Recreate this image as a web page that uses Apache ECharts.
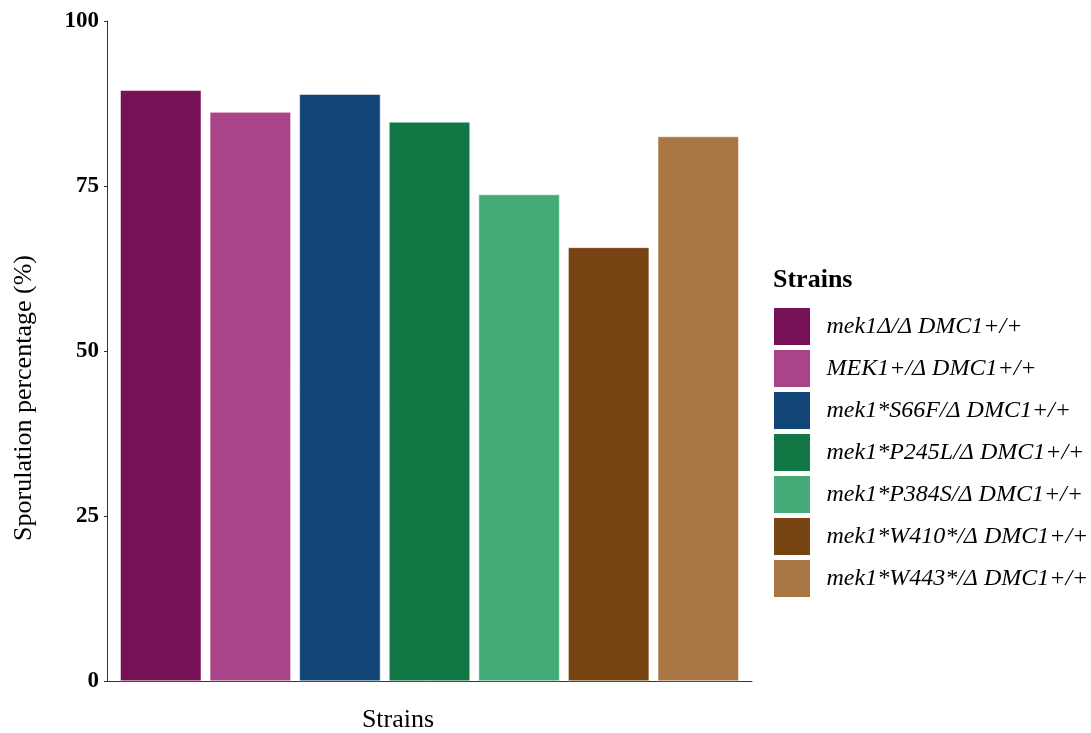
<!DOCTYPE html>
<html>
<head>
<meta charset="utf-8">
<script src="https://cdn.jsdelivr.net/npm/echarts@6/dist/echarts.min.js"></script>
<style>html,body{margin:0;padding:0;background:#fff;}#c{width:1091px;height:733px;}</style>
</head>
<body>
<div id="c"></div>
<script>
const strains = ["mek1\u0394/\u0394 DMC1+/+", "MEK1+/\u0394 DMC1+/+", "mek1*S66F/\u0394 DMC1+/+", "mek1*P245L/\u0394 DMC1+/+", "mek1*P384S/\u0394 DMC1+/+", "mek1*W410*/\u0394 DMC1+/+", "mek1*W443*/\u0394 DMC1+/+"];
const values = [89.5, 86.2, 88.9, 84.7, 73.7, 65.7, 82.5];
const colors = ["#771155", "#AA4488", "#114477", "#117744", "#44AA77", "#774411", "#AA7744"];
const yTicks = [0, 25, 50, 75, 100];
const xTitle = "Strains";
const yTitle = "Sporulation percentage (%)";
const legendTitle = "Strains";

const serif = "Liberation Serif";
const chart = echarts.init(document.getElementById('c'), null, {renderer: 'canvas'});
const series = strains.map((s, i) => ({
  name: s,
  type: 'bar',
  barWidth: 81,
  barGap: '-100%',
  data: [[i + 1, values[i]]],
  itemStyle: {color: colors[i], borderColor: '#ffffff', borderWidth: 0.5},
  emphasis: {disabled: true}
}));
chart.setOption({
  animation: false,
  backgroundColor: '#ffffff',
  textStyle: {fontFamily: serif},
  title: {
    text: legendTitle, left: 773, top: 267, padding: 0,
    textStyle: {fontFamily: serif, fontWeight: 'bold', fontSize: 26, color: '#000'}
  },
  legend: {
    orient: 'vertical', left: 773, top: 307, padding: 0,
    itemWidth: 37, itemHeight: 38, itemGap: 3, icon: 'rect',
    data: strains,
    textStyle: {fontFamily: serif, fontStyle: 'italic', fontSize: 24, color: '#000', padding: [0, 0, 0, 11]},
    itemStyle: {borderColor: '#ffffff', borderWidth: 1}
  },
  graphic: [
    {type: 'text', x: 398, y: 720, style: {text: xTitle, fontFamily: serif, fontSize: 26, fill: '#000', textAlign: 'center', textVerticalAlign: 'middle'}},
    {type: 'text', x: 24, y: 398, rotation: Math.PI / 2, style: {text: yTitle, fontFamily: serif, fontSize: 26, fill: '#000', textAlign: 'center', textVerticalAlign: 'middle'}}
  ],
  grid: {left: 107, width: 645, top: 21, height: 660, containLabel: false},
  xAxis: {
    type: 'value', min: 0.4, max: 7.6,
    axisLine: {show: true, onZero: false, lineStyle: {color: '#333', width: 1}},
    axisTick: {show: false}, axisLabel: {show: false}, splitLine: {show: false}
  },
  yAxis: {
    type: 'value', min: 0, max: 100, interval: 25,
    axisLine: {show: true, lineStyle: {color: '#333', width: 1}},
    axisTick: {show: true, length: 3, lineStyle: {color: '#333'}},
    axisLabel: {fontFamily: serif, fontWeight: 'bold', fontSize: 23, color: '#000', margin: 8,
      formatter: v => yTicks.includes(v) ? String(v) : ''},
    splitLine: {show: false}
  },
  series: series
});
</script>
</body>
</html>
